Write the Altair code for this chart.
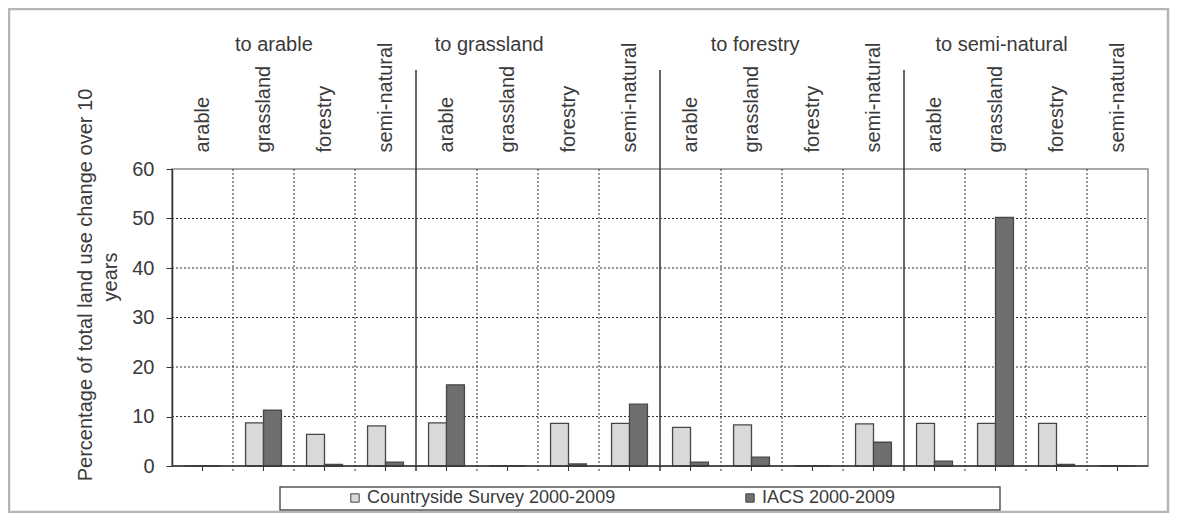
import altair as alt
import pandas as pd

# ---- data ----
groups = ["to arable", "to grassland", "to forestry", "to semi-natural"]
sources = ["arable", "grassland", "forestry", "semi-natural"]
series = ["Countryside Survey 2000-2009", "IACS 2000-2009"]
cs_values = [0, 8.7, 6.4, 8.1, 8.7, 0, 8.6, 8.6, 7.8, 8.3, 0, 8.5, 8.6, 8.6, 8.6, 0]
iacs_values = [0, 11.3, 0.3, 0.8, 16.4, 0, 0.4, 12.5, 0.8, 1.8, 0, 4.8, 1.0, 50.2, 0.3, 0]
y_ticks = [0, 10, 20, 30, 40, 50, 60]
grid_values = [10, 20, 30, 40, 50]
group_label_pos = [1.67, 5.2, 9.56, 13.6]
group_edges = [4, 8, 12]
y_title_lines = ["Percentage of total land use change over 10", "years"]

keys = [f"{g}|{s}" for g in groups for s in sources]
rows = []
for k, a, b in zip(keys, cs_values, iacs_values):
    rows.append({"key": k, "series": series[0], "value": a})
    rows.append({"key": k, "series": series[1], "value": b})
bars_df = pd.DataFrame(rows)

n = len(keys)
inner_edges = [i for i in range(1, n) if i not in group_edges]
centers = [i + 0.5 for i in range(n)]

W, H = 976, 297
FONT = "Liberation Sans"
TXT = "#3a3a3a"
LINE = "#333333"

xq = alt.Scale(domain=[0, n], nice=False, zero=False)
yscale = alt.Scale(domain=[0, 60], nice=False)

bars = alt.Chart(bars_df).mark_bar(stroke="#474747", strokeWidth=1.3).encode(
    x=alt.X("key:N", sort=keys,
            scale=alt.Scale(paddingInner=0, paddingOuter=0),
            axis=alt.Axis(orient="top", title=None, domain=False, ticks=False, grid=False,
                          labelExpr="split(datum.value, '|')[1]", labelAngle=270,
                          labelAlign="left", labelBaseline="middle", labelPadding=17,
                          labelFontSize=20, labelFont=FONT, labelColor=TXT)),
    xOffset=alt.XOffset("series:N", sort=series,
                        scale=alt.Scale(paddingOuter=0.7, paddingInner=0)),
    y=alt.Y("value:Q", scale=yscale,
            axis=alt.Axis(values=y_ticks, grid=False, domain=True, domainColor=LINE,
                          domainWidth=1.5, ticks=True, tickSize=6, tickColor=LINE,
                          labelPadding=12, labelFontSize=20, labelFont=FONT, labelColor=TXT,
                          title=None)),
    color=alt.Color("series:N", sort=series,
                    scale=alt.Scale(domain=series, range=["#d9d9d9", "#6f6f6f"]),
                    legend=alt.Legend(orient="none", legendX=174, legendY=320,
                                      direction="horizontal", title=None,
                                      labelFontSize=18, labelFont=FONT, labelColor=TXT,
                                      labelLimit=0,
                                      symbolType="square", symbolSize=70,
                                      symbolStrokeColor="#444", symbolStrokeWidth=1,
                                      columnPadding=125, labelOffset=3, padding=0)),
)

one = pd.DataFrame({"a": [0]})

ytitle1 = alt.Chart(one).mark_text(
    font=FONT, fontSize=20, color=TXT, angle=270, align="center", baseline="middle").encode(
    x=alt.value(-86), y=alt.value(116), text=alt.value(y_title_lines[0]))
ytitle2 = alt.Chart(one).mark_text(
    font=FONT, fontSize=20, color=TXT, angle=270, align="center", baseline="middle").encode(
    x=alt.value(-61), y=alt.value(108), text=alt.value(y_title_lines[1]))

hgrid = alt.Chart(pd.DataFrame({"v": grid_values})).mark_rule(
    color=LINE, strokeDash=[2, 2], strokeWidth=1).encode(
    y=alt.Y("v:Q", scale=yscale), x=alt.value(0), x2=alt.value(W))

vgrid = alt.Chart(pd.DataFrame({"pos": inner_edges})).mark_rule(
    color=LINE, strokeDash=[2, 2], strokeWidth=1).encode(
    x=alt.X("pos:Q", scale=xq, axis=None), y=alt.value(0), y2=alt.value(H + 5))

sep = alt.Chart(pd.DataFrame({"pos": group_edges})).mark_rule(
    color=LINE, strokeWidth=1.5).encode(
    x=alt.X("pos:Q", scale=xq, axis=None), y=alt.value(-99), y2=alt.value(H + 5))

ticks = alt.Chart(pd.DataFrame({"pos": centers})).mark_rule(
    color=LINE, strokeWidth=1).encode(
    x=alt.X("pos:Q", scale=xq, axis=None), y=alt.value(H), y2=alt.value(H + 5))

baseline = alt.Chart(one).mark_rule(color=LINE, strokeWidth=1.5).encode(
    y=alt.value(H), x=alt.value(0), x2=alt.value(W))

glabels = alt.Chart(pd.DataFrame({"pos": group_label_pos, "label": groups})).mark_text(
    font=FONT, fontSize=20, color=TXT, baseline="middle", align="center").encode(
    x=alt.X("pos:Q", scale=xq, axis=None), y=alt.value(-124), text="label:N")

legend_box = alt.Chart(one).mark_rect(fill="white", fillOpacity=0, stroke="#555",
                                      strokeWidth=1.5).encode(
    x=alt.value(108), x2=alt.value(828), y=alt.value(318), y2=alt.value(341))

frame = alt.Chart(one).mark_rect(fillOpacity=0, stroke="#b5b5b5", strokeWidth=2.5).encode(
    x=alt.value(-163), x2=alt.value(996), y=alt.value(-160), y2=alt.value(343))

chart = alt.layer(
    frame, hgrid, vgrid, bars, sep, ticks, baseline, glabels, legend_box, ytitle1, ytitle2
).resolve_scale(x="independent").properties(
    width=W, height=H,
    autosize=alt.AutoSizeParams(type="none"),
    padding={"left": 164, "top": 161, "right": 22, "bottom": 47},
).configure_view(stroke="#a8a8a8", strokeWidth=2)

chart.save("out.html", embed_options={"renderer": "svg", "actions": False})
